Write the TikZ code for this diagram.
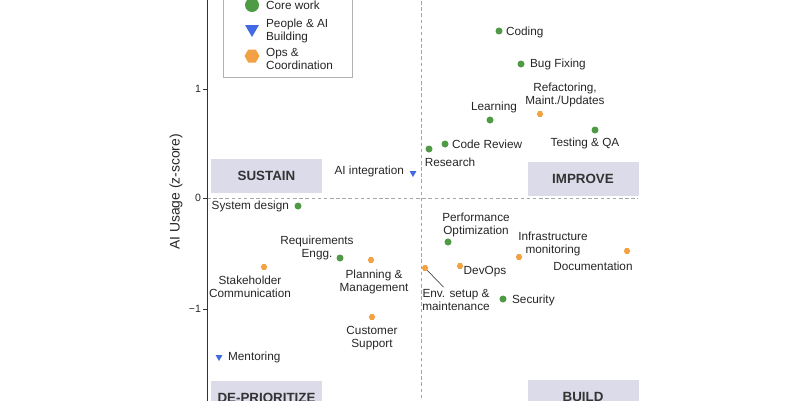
\documentclass[tikz,border=0pt]{standalone}
\usepackage{fontspec}
\setmainfont{Liberation Sans}
\usetikzlibrary{shapes.geometric}
\definecolor{corecol}{HTML}{4E9A45}
\definecolor{peoplecol}{HTML}{4169E1}
\definecolor{opscol}{HTML}{F2A145}
\definecolor{quadfill}{HTML}{DCDBEA}
\tikzset{
  core/.style={circle, fill=corecol, inner sep=0pt, minimum size=0.14cm},
  people/.style={regular polygon, regular polygon sides=3, shape border rotate=180, fill=peoplecol, inner sep=0pt, minimum size=0.16cm},
  ops/.style={regular polygon, regular polygon sides=6, fill=opscol, inner sep=0pt, minimum size=0.13cm},
  lbl/.style={font=\fontsize{6.7pt}{7.6pt}\selectfont, inner sep=1pt, align=center, text=black!85},
  ticklbl/.style={font=\fontsize{6pt}{7pt}\selectfont, inner sep=1pt, text=black!85},
  quad/.style={fill=quadfill, minimum width=2.22cm, minimum height=0.68cm, inner sep=0pt, font=\fontsize{7.6pt}{9pt}\selectfont\bfseries, text=black!80},
  guide/.style={gray!70, dash pattern=on 2pt off 1.5pt, line width=0.4pt},
}
\begin{document}
\begin{tikzpicture}[x=0.02cm, y=-0.02cm]
    \useasboundingbox (0,0) rectangle (800,400);
    \clip (0,0) rectangle (800,400);

    \draw[guide] (421,-5) -- (421,405);
    \draw[guide] (207,198) -- (638,198);
    \draw[black!80, line width=0.5pt] (207,-5) -- (207,405);
    \draw[black!80, line width=0.4pt] (203,89) -- (207,89) (203,198) -- (207,198) (203,309) -- (207,309);
    \node[ticklbl, anchor=east] (t1) at (203,89) {1};
    \node[ticklbl, anchor=east] (t0) at (203,198) {0};
    \node[ticklbl, anchor=east] (tm1) at (203,309) {−1};
    \node[lbl, font=\fontsize{7.9pt}{9pt}\selectfont, rotate=90] (ylabel) at (176,192) {AI Usage (z-score)};

    \node[quad] (sustain) at (266.5,176) {SUSTAIN};
    \node[quad] (improve) at (583,178.5) {IMPROVE};
    \node[quad] (deprio) at (266.5,398) {DE-PRIORITIZE};
    \node[quad] (build) at (583,397) {BUILD};

    \draw[gray!60, line width=0.4pt, fill=white] (223,-10) rectangle (352,77);
    \node[core, minimum size=0.28cm] (legcore) at (252,5) {};
    \node[lbl, anchor=west, align=left] (legcoretxt) at (264,5) {Core work};
    \node[people, minimum size=0.32cm] (legpeople) at (252,29) {};
    \node[lbl, anchor=west, align=left] (legpeopletxt) at (264,31) {People \& AI\\Building};
    \node[ops, minimum size=0.3cm] (legops) at (252,56) {};
    \node[lbl, anchor=west, align=left] (legopstxt) at (264,59) {Ops \&\\Coordination};

    \node[core] (coding) at (499,31) {};
    \node[lbl, anchor=west] (codinglbl) at (504,32) {Coding};
    \node[core] (bugfix) at (521,64) {};
    \node[lbl, anchor=west] (bugfixlbl) at (528,64) {Bug Fixing};
    \node[ops] (refactor) at (540,114) {};
    \node[lbl] (refactorlbl) at (565,95) {Refactoring,\\Maint./Updates};
    \node[core] (learning) at (490,120) {};
    \node[lbl] (learninglbl) at (494,107) {Learning};
    \node[core] (testing) at (595,130) {};
    \node[lbl] (testinglbl) at (585,143) {Testing \& QA};
    \node[core] (codereview) at (445,144) {};
    \node[lbl, anchor=west] (codereviewlbl) at (450,144) {Code Review};
    \node[core] (research) at (429,149) {};
    \node[lbl] (researchlbl) at (450,162) {Research};
    \node[people] (aiint) at (413,173) {};
    \node[lbl, anchor=east] (aiintlbl) at (406,171) {AI integration};

    \node[core] (sysdesign) at (298,206) {};
    \node[lbl, anchor=east] (sysdesignlbl) at (291,206) {System design};
    \node[core] (reqs) at (340,258) {};
    \node[lbl] (reqslbl) at (317,248) {Requirements\\Engg.};
    \node[ops] (planning) at (371,260) {};
    \node[lbl] (planninglbl) at (374,282) {Planning \&\\Management};
    \node[ops] (stakeholder) at (264,267) {};
    \node[lbl] (stakeholderlbl) at (250,287) {Stakeholder\\Communication};
    \node[ops] (customer) at (372,317) {};
    \node[lbl] (customerlbl) at (372,338) {Customer\\Support};
    \node[people] (mentoring) at (219,357) {};
    \node[lbl, anchor=west] (mentoringlbl) at (226,357) {Mentoring};

    \node[core] (perf) at (448,242) {};
    \node[lbl] (perflbl) at (476,225) {Performance\\Optimization};
    \node[ops] (infra) at (519,257) {};
    \node[lbl] (infralbl) at (553,244) {Infrastructure\\monitoring};
    \node[ops] (devops) at (460,266) {};
    \node[lbl] (devopslbl) at (485,272) {DevOps};
    \node[ops] (docs) at (627,251) {};
    \node[lbl] (docslbl) at (593,266) {Documentation};
    \node[ops] (env) at (425,268) {};
    \node[lbl] (envlbl) at (456,300) {Env. setup \&\\maintenance};
    \node[core] (security) at (503,299) {};
    \node[lbl, anchor=west] (securitylbl) at (510,300) {Security};

    \draw[black!70, line width=0.4pt] (env) -- (envlbl);
\end{tikzpicture}
\end{document}
